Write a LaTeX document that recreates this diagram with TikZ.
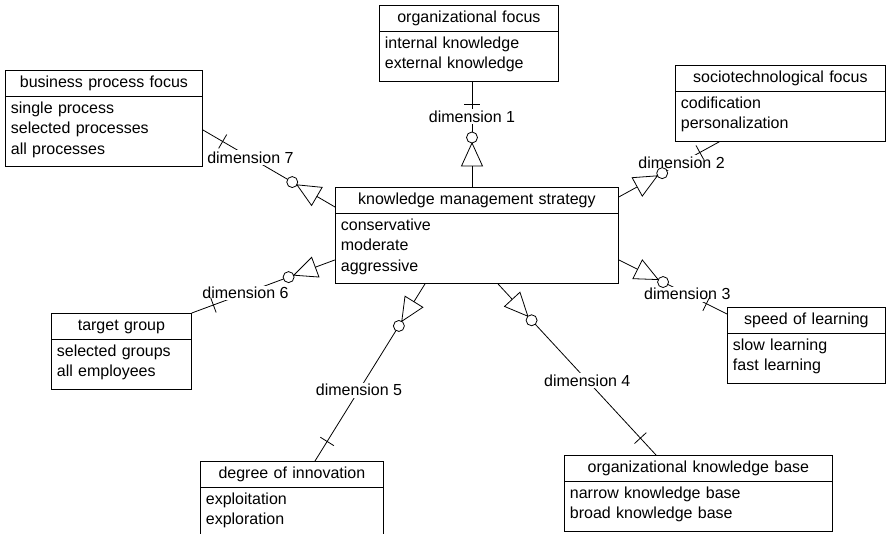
\documentclass[tikz,border=0pt]{standalone}
\usepackage{fontspec}
\setmainfont{Liberation Sans}
\usepackage{tikz}
\usetikzlibrary{shapes,arrows,positioning,calc}

\newcommand{\boxfont}{\fontsize{16}{20.5}\selectfont}
\newcommand{\hstrut}{\rule[-4.5pt]{0pt}{17pt}}
\newcommand{\istrut}{\rule[-8pt]{0pt}{20.5pt}}
\newcommand{\btitle}[1]{\hstrut\hspace*{\fill}#1\hspace*{\fill}\null}

\tikzset{
    umlbox/.style={
        draw,
        line width=0.8pt,
        rectangle split,
        rectangle split parts=2,
        text width=#1,
        align=left,
        inner xsep=5.5pt,
        inner ysep=4pt,
        anchor=north west,
        font=\boxfont
    },
    dimlabel/.style={fill=white, inner sep=1.5pt, font=\boxfont},
    dimline/.style={line width=0.8pt}
}

\begin{document}
\begin{tikzpicture}[x=1pt, y=-1pt]
                \useasboundingbox (0,0) rectangle (886,534);

                \node[umlbox=272pt] (kms) at (335,187)
                    {\btitle{knowledge management strategy}
                     \nodepart{two}\istrut conservative\\\istrut moderate\\\istrut aggressive};

                \node[umlbox=168pt] (orgfocus) at (379,5)
                    {\btitle{organizational focus}
                     \nodepart{two}\istrut internal knowledge\\\istrut external knowledge};

                \node[umlbox=199pt] (socio) at (675,65)
                    {\btitle{sociotechnological focus}
                     \nodepart{two}\istrut codification\\\istrut personalization};

                \node[umlbox=147pt] (speed) at (727,307)
                    {\btitle{speed of learning}
                     \nodepart{two}\istrut slow learning\\\istrut fast learning};

                \node[umlbox=257pt] (okb) at (564,455)
                    {\btitle{organizational knowledge base}
                     \nodepart{two}\istrut narrow knowledge base\\\istrut broad knowledge base};

                \node[umlbox=172pt] (innov) at (200,461)
                    {\btitle{degree of innovation}
                     \nodepart{two}\istrut exploitation\\\istrut exploration};

                \node[umlbox=129pt] (target) at (51,313)
                    {\btitle{target group}
                     \nodepart{two}\istrut selected groups\\\istrut all employees};

                \node[umlbox=186pt] (bpf) at (5,70)
                    {\btitle{business process focus}
                     \nodepart{two}\istrut single process\\\istrut selected processes\\\istrut all processes};

                % ends of the dimension links
                \coordinate (s1) at ([xshift=137pt]kms.north west);
                \coordinate (s2) at ([yshift=-10pt]kms.north east);
                \coordinate (s3) at ([yshift=24pt]kms.south east);
                \coordinate (s4) at ([xshift=163pt]kms.south west);
                \coordinate (s5) at ([xshift=90pt]kms.south west);
                \coordinate (s6) at ([yshift=24pt]kms.south west);
                \coordinate (s7) at ([yshift=-20pt]kms.north west);

                \coordinate (e1) at ([xshift=93pt]orgfocus.south west);
                \coordinate (e2) at ([xshift=45pt]socio.south west);
                \coordinate (e3) at ([yshift=-7pt]speed.north west);
                \coordinate (e4) at ([xshift=92pt]okb.north west);
                \coordinate (e5) at ([xshift=115pt]innov.north west);
                \coordinate (e6) at (target.north east);
                \coordinate (e7) at ([yshift=37pt]bpf.south east);

                \foreach \i/\p in {1/0.667, 2/0.62, 3/0.633, 4/0.565, 5/0.6, 6/0.625, 7/0.64} {
                    \draw[dimline] (s\i) -- (e\i) node[dimlabel, pos=\p] (d\i) {dimension \i};
                    \coordinate (b\i) at ($(s\i)!21pt!(e\i)$);
                    \coordinate (t\i) at ($(e\i)!23pt!(s\i)$);
                    \draw[dimline, fill=white]
                        ($(b\i)!10.5pt!90:(e\i)$) -- ($(s\i)!44pt!(e\i)$) -- ($(b\i)!10.5pt!-90:(e\i)$) -- cycle;
                    \draw[dimline, fill=white] ($(s\i)!49.5pt!(e\i)$) circle (5.5pt);
                    \draw[dimline] ($(t\i)!8pt!90:(e\i)$) -- ($(t\i)!8pt!-90:(e\i)$);
                }

            \end{tikzpicture}
\end{document}
